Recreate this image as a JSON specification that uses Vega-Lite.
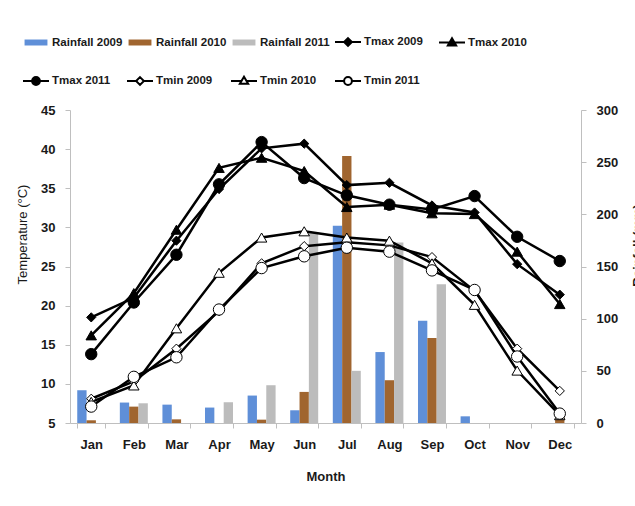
{
  "$schema": "https://vega.github.io/schema/vega-lite/v6.json",
  "width": 511,
  "height": 313,
  "autosize": {"type": "none"},
  "padding": {"left": 70, "top": 110, "right": 54, "bottom": 83},
  "background": "white",
  "config": {
    "view": {"stroke": null},
    "font": "Liberation Sans",
    "axis": {
      "grid": false,
      "domainColor": "#bfbfbf",
      "tickColor": "#bfbfbf",
      "tickSize": 5,
      "labelFont": "Liberation Sans",
      "labelFontWeight": "bold",
      "labelFontSize": 13,
      "labelColor": "#1a1a1a",
      "titleFont": "Liberation Sans",
      "titleFontSize": 13,
      "titleColor": "#1a1a1a"
    },
    "legend": {
      "orient": "none",
      "legendX": -48,
      "legendY": -82,
      "direction": "horizontal",
      "columns": 5,
      "gridAlign": "all",
      "columnPadding": 0,
      "rowPadding": 17,
      "symbolSize": 676,
      "symbolStrokeWidth": 2,
      "labelOffset": 2,
      "labelFont": "Liberation Sans",
      "labelFontWeight": "bold",
      "labelFontSize": 11.5,
      "labelColor": "#1a1a1a",
      "labelLimit": 200
    }
  },
  "datasets": {
    "rain": [
      {"month": "Jan", "series": "Rainfall 2009", "rain": 31.4},
      {"month": "Feb", "series": "Rainfall 2009", "rain": 19.6},
      {"month": "Mar", "series": "Rainfall 2009", "rain": 17.6},
      {"month": "Apr", "series": "Rainfall 2009", "rain": 14.8},
      {"month": "May", "series": "Rainfall 2009", "rain": 26.3},
      {"month": "Jun", "series": "Rainfall 2009", "rain": 12.2},
      {"month": "Jul", "series": "Rainfall 2009", "rain": 189},
      {"month": "Aug", "series": "Rainfall 2009", "rain": 68},
      {"month": "Sep", "series": "Rainfall 2009", "rain": 98},
      {"month": "Oct", "series": "Rainfall 2009", "rain": 6.4},
      {"month": "Jan", "series": "Rainfall 2010", "rain": 2.6},
      {"month": "Feb", "series": "Rainfall 2010", "rain": 15.7},
      {"month": "Mar", "series": "Rainfall 2010", "rain": 3.5},
      {"month": "May", "series": "Rainfall 2010", "rain": 3.2},
      {"month": "Jun", "series": "Rainfall 2010", "rain": 29.8},
      {"month": "Jul", "series": "Rainfall 2010", "rain": 256},
      {"month": "Aug", "series": "Rainfall 2010", "rain": 41},
      {"month": "Sep", "series": "Rainfall 2010", "rain": 81.5},
      {"month": "Dec", "series": "Rainfall 2010", "rain": 6.4},
      {"month": "Feb", "series": "Rainfall 2011", "rain": 18.9},
      {"month": "Apr", "series": "Rainfall 2011", "rain": 19.9},
      {"month": "May", "series": "Rainfall 2011", "rain": 36.2},
      {"month": "Jun", "series": "Rainfall 2011", "rain": 183},
      {"month": "Jul", "series": "Rainfall 2011", "rain": 50},
      {"month": "Aug", "series": "Rainfall 2011", "rain": 173},
      {"month": "Sep", "series": "Rainfall 2011", "rain": 133}
    ],
    "temp": [
      {"month": "Jan", "series": "Tmax 2009", "temp": 18.5},
      {"month": "Feb", "series": "Tmax 2009", "temp": 21.0},
      {"month": "Mar", "series": "Tmax 2009", "temp": 28.3},
      {"month": "Apr", "series": "Tmax 2009", "temp": 34.9},
      {"month": "May", "series": "Tmax 2009", "temp": 40.1},
      {"month": "Jun", "series": "Tmax 2009", "temp": 40.7},
      {"month": "Jul", "series": "Tmax 2009", "temp": 35.4},
      {"month": "Aug", "series": "Tmax 2009", "temp": 35.7},
      {"month": "Sep", "series": "Tmax 2009", "temp": 32.8},
      {"month": "Oct", "series": "Tmax 2009", "temp": 31.9},
      {"month": "Nov", "series": "Tmax 2009", "temp": 25.3},
      {"month": "Dec", "series": "Tmax 2009", "temp": 21.4},
      {"month": "Jan", "series": "Tmax 2010", "temp": 16.2},
      {"month": "Feb", "series": "Tmax 2010", "temp": 21.6},
      {"month": "Mar", "series": "Tmax 2010", "temp": 29.7},
      {"month": "Apr", "series": "Tmax 2010", "temp": 37.6},
      {"month": "May", "series": "Tmax 2010", "temp": 38.9},
      {"month": "Jun", "series": "Tmax 2010", "temp": 37.2},
      {"month": "Jul", "series": "Tmax 2010", "temp": 32.6},
      {"month": "Aug", "series": "Tmax 2010", "temp": 32.9},
      {"month": "Sep", "series": "Tmax 2010", "temp": 31.8},
      {"month": "Oct", "series": "Tmax 2010", "temp": 31.7},
      {"month": "Nov", "series": "Tmax 2010", "temp": 26.9},
      {"month": "Dec", "series": "Tmax 2010", "temp": 20.2},
      {"month": "Jan", "series": "Tmax 2011", "temp": 13.8},
      {"month": "Feb", "series": "Tmax 2011", "temp": 20.4},
      {"month": "Mar", "series": "Tmax 2011", "temp": 26.5},
      {"month": "Apr", "series": "Tmax 2011", "temp": 35.5},
      {"month": "May", "series": "Tmax 2011", "temp": 40.9},
      {"month": "Jun", "series": "Tmax 2011", "temp": 36.3},
      {"month": "Jul", "series": "Tmax 2011", "temp": 34.1},
      {"month": "Aug", "series": "Tmax 2011", "temp": 32.9},
      {"month": "Sep", "series": "Tmax 2011", "temp": 32.3},
      {"month": "Oct", "series": "Tmax 2011", "temp": 34.0},
      {"month": "Nov", "series": "Tmax 2011", "temp": 28.8},
      {"month": "Dec", "series": "Tmax 2011", "temp": 25.7},
      {"month": "Jan", "series": "Tmin 2009", "temp": 8.1},
      {"month": "Feb", "series": "Tmin 2009", "temp": 10.3},
      {"month": "Mar", "series": "Tmin 2009", "temp": 14.5},
      {"month": "Apr", "series": "Tmin 2009", "temp": 19.3},
      {"month": "May", "series": "Tmin 2009", "temp": 25.4},
      {"month": "Jun", "series": "Tmin 2009", "temp": 27.6},
      {"month": "Jul", "series": "Tmin 2009", "temp": 28.1},
      {"month": "Aug", "series": "Tmin 2009", "temp": 27.7},
      {"month": "Sep", "series": "Tmin 2009", "temp": 26.2},
      {"month": "Oct", "series": "Tmin 2009", "temp": 21.9},
      {"month": "Nov", "series": "Tmin 2009", "temp": 14.5},
      {"month": "Dec", "series": "Tmin 2009", "temp": 9.1},
      {"month": "Jan", "series": "Tmin 2010", "temp": 7.7},
      {"month": "Feb", "series": "Tmin 2010", "temp": 9.8},
      {"month": "Mar", "series": "Tmin 2010", "temp": 17.1},
      {"month": "Apr", "series": "Tmin 2010", "temp": 24.2},
      {"month": "May", "series": "Tmin 2010", "temp": 28.7},
      {"month": "Jun", "series": "Tmin 2010", "temp": 29.5},
      {"month": "Jul", "series": "Tmin 2010", "temp": 28.7},
      {"month": "Aug", "series": "Tmin 2010", "temp": 28.3},
      {"month": "Sep", "series": "Tmin 2010", "temp": 25.4},
      {"month": "Oct", "series": "Tmin 2010", "temp": 20.1},
      {"month": "Nov", "series": "Tmin 2010", "temp": 11.7},
      {"month": "Dec", "series": "Tmin 2010", "temp": 6.0},
      {"month": "Jan", "series": "Tmin 2011", "temp": 7.1},
      {"month": "Feb", "series": "Tmin 2011", "temp": 10.9},
      {"month": "Mar", "series": "Tmin 2011", "temp": 13.4},
      {"month": "Apr", "series": "Tmin 2011", "temp": 19.5},
      {"month": "May", "series": "Tmin 2011", "temp": 24.8},
      {"month": "Jun", "series": "Tmin 2011", "temp": 26.3},
      {"month": "Jul", "series": "Tmin 2011", "temp": 27.4},
      {"month": "Aug", "series": "Tmin 2011", "temp": 26.9},
      {"month": "Sep", "series": "Tmin 2011", "temp": 24.5},
      {"month": "Oct", "series": "Tmin 2011", "temp": 22.0},
      {"month": "Nov", "series": "Tmin 2011", "temp": 13.5},
      {"month": "Dec", "series": "Tmin 2011", "temp": 6.2}
    ]
  },
  "layer": [
    {
      "data": {"name": "rain"},
      "mark": {"type": "bar"},
      "encoding": {
        "x": {
          "field": "month", "type": "nominal",
          "sort": ["Jan","Feb","Mar","Apr","May","Jun","Jul","Aug","Sep","Oct","Nov","Dec"],
          "scale": {"paddingInner": 0.343, "paddingOuter": 0.17},
          "axis": {
            "title": "Month",
            "labelAngle": 0,
            "labelPadding": 10,
            "tickBand": "extent",
            "titleFontWeight": "bold",
            "titleY": 53,
            "titleBaseline": "middle"
          }
        },
        "xOffset": {"field": "series", "type": "nominal", "sort": ["Rainfall 2009","Rainfall 2010","Rainfall 2011"]},
        "y": {
          "field": "rain", "type": "quantitative",
          "scale": {"domain": [0, 300], "nice": false},
          "axis": {
            "orient": "right",
            "values": [0, 50, 100, 150, 200, 250, 300],
            "labelPadding": 10,
            "title": "Rainfall (mm)",
            "titleFontWeight": "bold",
            "titleAngle": 270,
            "titleX": 56,
            "titleY": 135,
            "titleAlign": "center",
            "titleBaseline": "middle"
          }
        },
        "fill": {
          "field": "series", "type": "nominal",
          "scale": {
            "domain": ["Rainfall 2009","Rainfall 2010","Rainfall 2011","Tmax 2009","Tmax 2010","Tmax 2011","Tmin 2009","Tmin 2010","Tmin 2011"],
            "range": ["#5f8fd8","#a0652f","#bcbcbc","#000000","#000000","#000000","#ffffff","#ffffff","#ffffff"]
          },
          "legend": {"title": null}
        }
      }
    },
    {
      "data": {"name": "temp"},
      "encoding": {
        "x": {
          "field": "month", "type": "nominal",
          "sort": ["Jan","Feb","Mar","Apr","May","Jun","Jul","Aug","Sep","Oct","Nov","Dec"]
        },
        "y": {
          "field": "temp", "type": "quantitative",
          "scale": {"domain": [5, 45], "nice": false, "zero": false},
          "axis": {
            "orient": "left",
            "values": [5, 10, 15, 20, 25, 30, 35, 40, 45],
            "labelPadding": 10,
            "title": "Temperature (°C)",
            "titleFontWeight": "normal",
            "titleAngle": 270,
            "titleX": -48,
            "titleY": 124,
            "titleAlign": "center",
            "titleBaseline": "middle"
          }
        }
      },
      "layer": [
        {
          "mark": {"type": "line", "color": "#000000", "strokeWidth": 2.5},
          "encoding": {"detail": {"field": "series", "type": "nominal"}}
        },
        {
          "transform": [{"filter": {"field": "series", "oneOf": ["Tmax 2009", "Tmin 2009"]}}],
          "mark": {"type": "point", "shape": "diamond", "filled": true, "size": 85, "stroke": "#000000", "strokeWidth": 1, "opacity": 1},
          "encoding": {"fill": {"field": "series", "type": "nominal", "legend": {"title": null}}}
        },
        {
          "transform": [{"filter": {"field": "series", "oneOf": ["Tmax 2010", "Tmin 2010"]}}],
          "mark": {"type": "point", "shape": "triangle-up", "filled": true, "size": 110, "stroke": "#000000", "strokeWidth": 1, "opacity": 1},
          "encoding": {"fill": {"field": "series", "type": "nominal", "legend": {"title": null}}}
        },
        {
          "transform": [{"filter": {"field": "series", "oneOf": ["Tmax 2011", "Tmin 2011"]}}],
          "mark": {"type": "point", "shape": "circle", "filled": true, "size": 130, "stroke": "#000000", "strokeWidth": 1, "opacity": 1},
          "encoding": {"fill": {"field": "series", "type": "nominal", "legend": {"title": null}}}
        },
        {
          "transform": [{"filter": "false"}],
          "mark": {"type": "point", "filled": true},
          "encoding": {
            "fill": {"field": "series", "type": "nominal", "legend": {"title": null}},
            "shape": {
              "field": "series", "type": "nominal",
              "scale": {
                "domain": ["Rainfall 2009","Rainfall 2010","Rainfall 2011","Tmax 2009","Tmax 2010","Tmax 2011","Tmin 2009","Tmin 2010","Tmin 2011"],
                "range": [
                  "M-0.88,-0.23H0.88V0.23H-0.88Z",
                  "M-0.88,-0.23H0.88V0.23H-0.88Z",
                  "M-0.88,-0.23H0.88V0.23H-0.88Z",
                  "M-1,0H-0.3M0.3,0H1M0,-0.3L0.3,0L0,0.3L-0.3,0Z",
                  "M-1,0H-0.18M0.18,0H1M0,-0.33L0.32,0.22L-0.32,0.22Z",
                  "M-1,0H-0.3M0.3,0H1M0.3,0A0.3,0.3,0,1,1,-0.3,0A0.3,0.3,0,1,1,0.3,0Z",
                  "M-1,0H-0.3M0.3,0H1M0,-0.3L0.3,0L0,0.3L-0.3,0Z",
                  "M-1,0H-0.18M0.18,0H1M0,-0.33L0.32,0.22L-0.32,0.22Z",
                  "M-1,0H-0.3M0.3,0H1M0.3,0A0.3,0.3,0,1,1,-0.3,0A0.3,0.3,0,1,1,0.3,0Z"
                ]
              },
              "legend": {"title": null}
            },
            "stroke": {
              "field": "series", "type": "nominal",
              "scale": {
                "domain": ["Rainfall 2009","Rainfall 2010","Rainfall 2011","Tmax 2009","Tmax 2010","Tmax 2011","Tmin 2009","Tmin 2010","Tmin 2011"],
                "range": ["transparent","transparent","transparent","#000000","#000000","#000000","#000000","#000000","#000000"]
              },
              "legend": {"title": null}
            }
          }
        }
      ]
    }
  ],
  "resolve": {"scale": {"y": "independent"}}
}
